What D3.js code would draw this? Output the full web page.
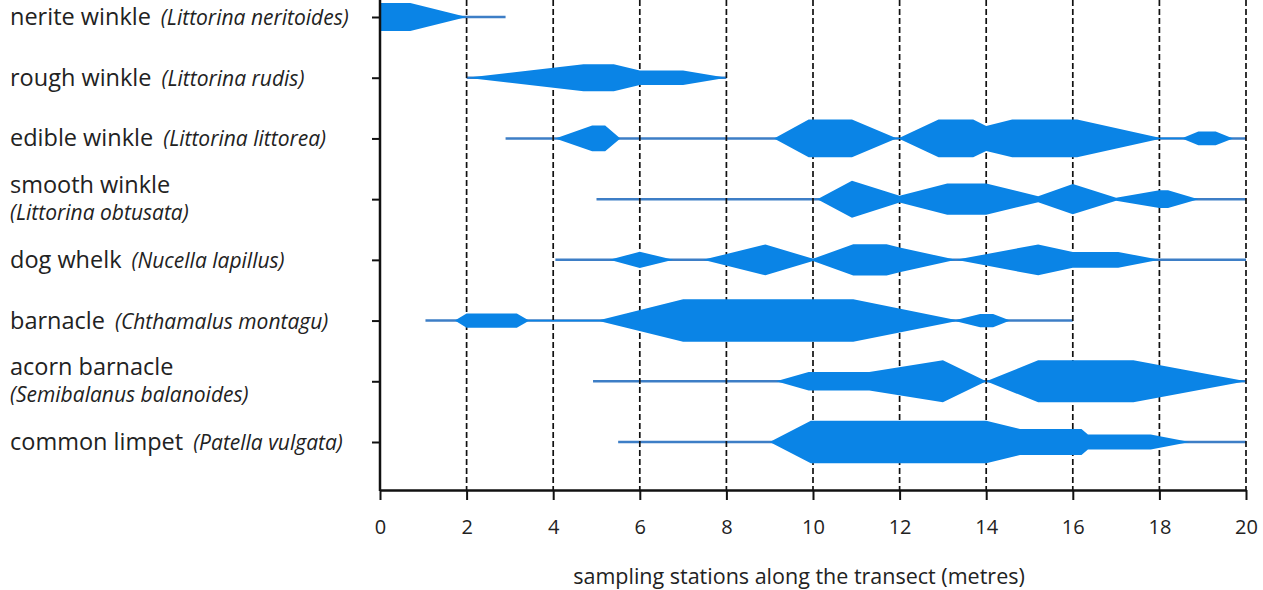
<!DOCTYPE html>
<html>
<head>
<meta charset="utf-8">
<script src="https://cdn.jsdelivr.net/npm/d3@7"></script>
<style>
  html, body { margin: 0; padding: 0; background: #fff; }
  svg { display: block; }
  text { font-family: "Open Sans", "Liberation Sans", sans-serif; fill: #222; }
</style>
</head>
<body>
<svg id="chart" width="1263" height="590"></svg>
<script>
// Species along the transect, top to bottom
const commonNames = ["nerite winkle", "rough winkle", "edible winkle", "smooth winkle",
                     "dog whelk", "barnacle", "acorn barnacle", "common limpet"];
const latinNames = ["(Littorina neritoides)", "(Littorina rudis)", "(Littorina littorea)",
                    "(Littorina obtusata)", "(Nucella lapillus)", "(Chthamalus montagu)",
                    "(Semibalanus balanoides)", "(Patella vulgata)"];
// Labels that wrap the Latin name onto a second line
const twoLineLabels = [false, false, false, true, false, false, true, false];

// Range over which each species was recorded (metres)
const presence = [[0, 2.9], [2, 8], [2.9, 20], [5, 20], [4.05, 20], [1.05, 16], [4.92, 20], [5.5, 20]];

// Abundance profiles: [distance (m), abundance]
const neriteWinkle = [[0, 6.5], [0.7, 6.5], [2.0, 0]];
const roughWinkle = [[2, 0], [4.7, 6.3], [5.4, 6.3], [6.0, 3.4], [7.0, 3.4], [8.0, 0]];
const edibleWinkle = [[4.05, 0], [4.9, 6], [5.2, 6], [5.55, 0], [9.1, 0], [9.9, 8.8], [10.9, 8.8],
                      [11.9, 0.3], [12.0, 0.3], [12.9, 8.8], [13.7, 8.8], [14.0, 5.8], [14.6, 8.8],
                      [16.1, 8.8], [18.0, 0.3], [18.55, 0.3], [18.9, 3.2], [19.3, 3.2], [19.7, 0]];
const smoothWinkle = [[10.1, 0], [10.9, 8.6], [12.0, 1.6], [13.1, 7.3], [14.0, 7.3], [15.2, 1.4],
                      [16.0, 7.0], [17.0, 0.7], [18.0, 4.1], [18.2, 4.1], [18.9, 0]];
const dogWhelk = [[5.3, 0], [6.0, 3.8], [6.77, 0], [7.46, 0], [8.9, 7.2], [10.0, 0.5], [10.93, 7.3],
                  [11.7, 7.3], [12.0, 5.8], [13.3, 0], [15.2, 7.2], [16.0, 3.7], [17.05, 3.7], [18.0, 0]];
const barnacle = [[1.73, 0], [2.0, 3.3], [3.16, 3.3], [3.42, 0.3], [5.08, 0.3], [7.0, 9.9], [10.93, 9.9],
                  [13.3, 0.3], [13.86, 3.1], [14.16, 3.1], [14.55, 0]];
const acornBarnacle = [[9.15, 0], [9.9, 4.3], [11.3, 4.3], [13.0, 9.8], [14.0, 0], [15.2, 9.8],
                       [17.4, 9.8], [20, 0]];
const commonLimpet = [[9.0, 0], [9.95, 9.9], [14.0, 9.9], [14.78, 6.0], [16.2, 6.0], [16.35, 3.5],
                      [17.8, 3.5], [18.7, 0]];

const profiles = [neriteWinkle, roughWinkle, edibleWinkle, smoothWinkle, dogWhelk,
                  barnacle, acornBarnacle, commonLimpet];

const xTicks = [0, 2, 4, 6, 8, 10, 12, 14, 16, 18, 20];
const xTitle = "sampling stations along the transect (metres)";

// ---- layout ----
const svg = d3.select("#chart");
const plotLeft = 380, plotRight = 1246, plotTop = 0, plotBottom = 490;
const kiteColor = "#0a84e6";
const lineColor = "#3d7ec6";

const x = d3.scaleLinear().domain([0, 20]).range([plotLeft, plotRight]);
const y = d3.scalePoint().domain(commonNames).range([17, 442]);
const half = d3.scaleLinear().domain([0, 10]).range([0, 21.5]);

// thin presence lines
svg.append("g")
  .selectAll("line")
  .data(presence)
  .join("line")
  .attr("x1", d => x(d[0]))
  .attr("x2", d => x(d[1]))
  .attr("y1", (d, i) => y(commonNames[i]))
  .attr("y2", (d, i) => y(commonNames[i]))
  .attr("stroke", lineColor)
  .attr("stroke-width", 2.5);

// dashed station lines
svg.append("g")
  .selectAll("line")
  .data(xTicks.filter(t => t > 0))
  .join("line")
  .attr("x1", d => x(d)).attr("x2", d => x(d))
  .attr("y1", plotTop).attr("y2", plotBottom)
  .attr("stroke", "#111")
  .attr("stroke-width", 1.7)
  .attr("stroke-dasharray", "6,3");

// kites
profiles.forEach((prof, i) => {
  const cy = y(commonNames[i]);
  const area = d3.area()
    .x(d => x(d[0]))
    .y0(d => cy - half(d[1]))
    .y1(d => cy + half(d[1]));
  svg.append("path")
    .datum(prof)
    .attr("d", area)
    .attr("fill", kiteColor);
});

// y axis with species ticks
const yAxis = d3.axisLeft(y).tickSize(8).tickFormat("");
const yg = svg.append("g").attr("transform", `translate(${plotLeft},0)`).call(yAxis);
yg.select(".domain").attr("stroke", "#111").attr("stroke-width", 2.5).attr("d", `M0,${plotTop}V${plotBottom + 1}`);
yg.selectAll(".tick line").attr("stroke", "#111").attr("stroke-width", 2);

// x axis
const xAxis = d3.axisBottom(x).tickValues(xTicks).tickSize(10).tickSizeOuter(0).tickPadding(20);
const xg = svg.append("g").attr("transform", `translate(0,${plotBottom})`).call(xAxis);
xg.select(".domain").attr("stroke", "#111").attr("stroke-width", 2.5);
xg.selectAll(".tick line").attr("stroke", "#111").attr("stroke-width", 2);
xg.selectAll(".tick text").style("font-size", "20px").style("font-family", "Open Sans, sans-serif").attr("fill", "#222");

svg.append("text")
  .attr("x", 799)
  .attr("y", 584)
  .attr("text-anchor", "middle")
  .style("font-size", "21.5px")
  .text(xTitle);

// species labels
const commonSize = "23.5px", latinSize = "21px";
commonNames.forEach((name, i) => {
  const cy = y(name);
  if (twoLineLabels[i]) {
    svg.append("text").attr("x", 10).attr("y", cy - 6).style("font-size", commonSize).text(name);
    svg.append("text").attr("x", 10).attr("y", cy + 21).style("font-size", latinSize)
      .style("font-style", "italic").text(latinNames[i]);
  } else {
    const t = svg.append("text").attr("x", 10).attr("y", cy + 8);
    t.append("tspan").style("font-size", commonSize).text(name);
    t.append("tspan").attr("dx", 10).style("font-size", latinSize).style("font-style", "italic").text(latinNames[i]);
  }
});
</script>
</body>
</html>
